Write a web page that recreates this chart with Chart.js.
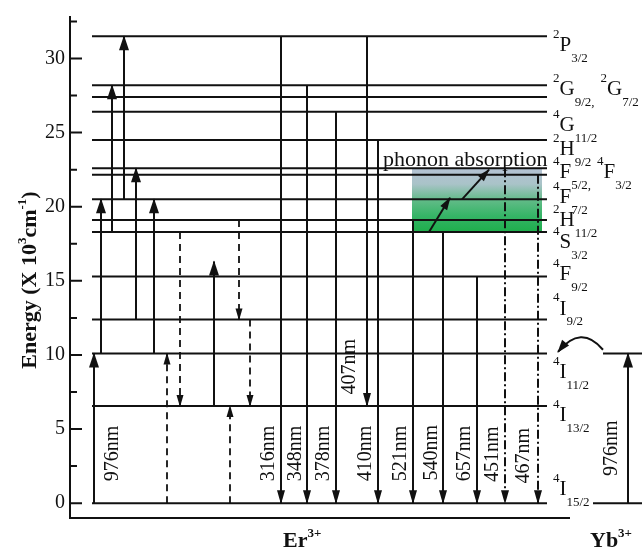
<!DOCTYPE html>
<html>
<head>
<meta charset="utf-8">
<script src="https://cdn.jsdelivr.net/npm/chart.js@4.4.0/dist/chart.umd.min.js"></script>
<style>
  html, body { margin: 0; padding: 0; background: #fff; }
</style>
</head>
<body>
<canvas id="diagram" width="642" height="549"></canvas>
<script>
// Er3+ levels (x 10^3 cm^-1), drawn between levelSpan
const levelEnergy = [31.5, 28.2, 27.4, 26.4, 24.5, 22.6, 22.15, 20.5, 19.1, 18.3, 15.3, 12.4, 10.1, 6.55, 0];
const levelSpan = [22, 477];

// term symbols: groups of [sup, letter, sub]
const levelLabels = [
    [['2', 'P', '3/2']],
    [['2', 'G', '9/2,'], ['2', 'G', '7/2']],
    [['4', 'G', '11/2']],
    [['2', 'H', '9/2']],
    [['4', 'F', '5/2,'], ['4', 'F', '3/2']],
    [['4', 'F', '7/2']],
    [['2', 'H', '11/2']],
    [['4', 'S', '3/2']],
    [['4', 'F', '9/2']],
    [['4', 'I', '9/2']],
    [['4', 'I', '11/2']],
    [['4', 'I', '13/2']],
    [['4', 'I', '15/2']]
];
const labelEnergy = [30.9, 27.9, 25.45, 23.85, 22.3, 20.6, 19.05, 17.6, 15.4, 13.1, 8.8, 5.9, 0.9];

// Yb3+ levels
const ybEnergy = [0, 10.1];
const ybStart = [523, 533];

// pumping (solid, upward)
const pumpX = [24, 31, 42, 54, 66, 84, 144, 558];
const pumpFrom = [0, 10.1, 18.3, 20.5, 12.4, 10.1, 6.55, 0];
const pumpTo = [10.1, 20.5, 28.2, 31.5, 22.6, 20.5, 16.3, 10.1];

// energy transfer / non-radiative (dashed)
const dashX = [97, 160, 110, 169, 180];
const dashFrom = [0, 0, 18.3, 19.1, 12.4];
const dashTo = [10.1, 6.55, 6.55, 12.4, 6.55];

// emissions (solid, downward)
const emitX = [211, 237, 266, 297, 308, 343, 373, 407];
const emitFrom = [31.5, 28.2, 26.4, 31.5, 24.5, 19.1, 18.3, 15.3];
const emitTo = [0, 0, 0, 6.55, 0, 0, 0, 0];

// blue emissions (dash-dot)
const blueX = [435, 468];
const blueFrom = [22.6, 22.15];
const blueTo = [0, 0];

// wavelength labels
const waveText = ['976nm', '316nm', '348nm', '378nm', '407nm', '410nm', '521nm', '540nm', '657nm', '451nm', '467nm', '976nm'];
const waveX = [43, 199, 226, 254, 280, 296, 331, 362, 395, 423, 454, 542];
const waveE = [3.35, 3.35, 3.35, 3.35, 9.2, 3.35, 3.35, 3.4, 3.35, 3.3, 3.2, 3.7];

// phonon absorption steps
const phononX0 = [359, 392];
const phononE0 = [18.3, 20.5];
const phononX1 = [380, 419];
const phononE1 = [20.6, 22.5];
const phononBoxX = [342, 472];
const phononBoxE = [18.3, 22.6];

// Yb -> Er transfer curve (start, control, end)
const transferX = [533, 511, 488];
const transferE = [10.35, 12.1, 10.2];

const yTicks = [0, 5, 10, 15, 20, 25, 30];

const SERIF = '"Liberation Serif", "DejaVu Serif", serif';
const INK = '#111';

function seg(x0, y0, x1, y1, extra) {
    return Object.assign({
        data: [{x: x0, y: y0}, {x: x1, y: y1}],
        showLine: true,
        borderColor: INK,
        borderWidth: 2,
        pointRadius: 0,
        clip: false
    }, extra || {});
}

const datasets = [];
levelEnergy.forEach(e => datasets.push(seg(levelSpan[0], e, levelSpan[1], e)));
ybEnergy.forEach((e, i) => datasets.push(seg(ybStart[i], e, 572, e)));
pumpX.forEach((x, i) => datasets.push(seg(x, pumpFrom[i], x, pumpTo[i], {head: [14, 10]})));
dashX.forEach((x, i) => datasets.push(seg(x, dashFrom[i], x, dashTo[i], {borderDash: [7, 5], borderWidth: 1.8, head: [11, 7]})));
emitX.forEach((x, i) => datasets.push(seg(x, emitFrom[i], x, emitTo[i], {head: [13, 8]})));
blueX.forEach((x, i) => datasets.push(seg(x, blueFrom[i], x, blueTo[i], {borderDash: [9, 3, 2, 3], head: [13, 8]})));
phononX0.forEach((x, i) => datasets.push(seg(x, phononE0[i], phononX1[i], phononE1[i], {head: [12, 8]})));

function arrowHead(ctx, x0, y0, x1, y1, len, w) {
    const a = Math.atan2(y1 - y0, x1 - x0);
    ctx.save();
    ctx.translate(x1, y1);
    ctx.rotate(a);
    ctx.beginPath();
    ctx.moveTo(1, 0);
    ctx.lineTo(-len, w / 2);
    ctx.lineTo(-len, -w / 2);
    ctx.closePath();
    ctx.fill();
    ctx.restore();
}

function drawTerm(ctx, x, y, groups) {
    ctx.textBaseline = 'middle';
    ctx.textAlign = 'left';
    groups.forEach((g, gi) => {
        if (gi > 0) x += 6;
        ctx.font = '13px ' + SERIF;
        ctx.fillText(g[0], x, y - 11);
        x += ctx.measureText(g[0]).width;
        ctx.font = '21px ' + SERIF;
        ctx.fillText(g[1], x, y);
        x += ctx.measureText(g[1]).width;
        ctx.font = '13px ' + SERIF;
        ctx.fillText(g[2], x, y + 13);
        x += ctx.measureText(g[2]).width;
    });
}

// draws a run of [text, isSup] pieces from x along the baseline
function drawRun(ctx, x, y, pieces, size, supSize) {
    ctx.textBaseline = 'alphabetic';
    ctx.textAlign = 'left';
    pieces.forEach(p => {
        if (p[1]) {
            ctx.font = 'bold ' + supSize + 'px ' + SERIF;
            ctx.fillText(p[0], x, y - size * 0.45);
        } else {
            ctx.font = 'bold ' + size + 'px ' + SERIF;
            ctx.fillText(p[0], x, y);
        }
        x += ctx.measureText(p[0]).width;
    });
    return x;
}

function runWidth(ctx, pieces, size, supSize) {
    let w = 0;
    pieces.forEach(p => {
        ctx.font = 'bold ' + (p[1] ? supSize : size) + 'px ' + SERIF;
        w += ctx.measureText(p[0]).width;
    });
    return w;
}

const diagramPlugin = {
    id: 'diagram',
    beforeDatasetsDraw(chart) {
        const {ctx, scales: {x, y}} = chart;
        const x0 = x.getPixelForValue(phononBoxX[0]);
        const x1 = x.getPixelForValue(phononBoxX[1]);
        const yTop = y.getPixelForValue(phononBoxE[1]);
        const yBot = y.getPixelForValue(phononBoxE[0]);
        const g = ctx.createLinearGradient(0, yTop, 0, yBot);
        g.addColorStop(0, '#b4c2d3');
        g.addColorStop(0.25, '#a9c3c8');
        g.addColorStop(0.5, '#62bb88');
        g.addColorStop(0.75, '#35b466');
        g.addColorStop(1, '#1eae4b');
        ctx.save();
        ctx.fillStyle = g;
        ctx.fillRect(x0, yTop, x1 - x0, yBot - yTop);
        ctx.restore();
    },
    afterDatasetsDraw(chart) {
        const {ctx, scales: {x, y}} = chart;
        ctx.save();
        ctx.fillStyle = INK;
        ctx.strokeStyle = INK;

        // arrow heads
        chart.data.datasets.forEach(ds => {
            if (!ds.head) return;
            const a = ds.data[0], b = ds.data[1];
            arrowHead(ctx, x.getPixelForValue(a.x), y.getPixelForValue(a.y),
                x.getPixelForValue(b.x), y.getPixelForValue(b.y), ds.head[0], ds.head[1]);
        });

        // Yb -> Er transfer curve
        const px = transferX.map(v => x.getPixelForValue(v));
        const py = transferE.map(v => y.getPixelForValue(v));
        ctx.lineWidth = 2;
        ctx.beginPath();
        ctx.moveTo(px[0], py[0]);
        ctx.quadraticCurveTo(px[1], py[1], px[2], py[2]);
        ctx.stroke();
        arrowHead(ctx, px[1], py[1], px[2], py[2], 12, 9);

        // axis frame: inward ticks and bottom spine
        const left = chart.chartArea.left;
        ctx.lineWidth = 2;
        ctx.beginPath();
        yTicks.forEach(v => {
            const yy = y.getPixelForValue(v);
            ctx.moveTo(left, yy);
            ctx.lineTo(left + 12, yy);
            const ym = y.getPixelForValue(v + 2.5);
            ctx.moveTo(left, ym);
            ctx.lineTo(left + 7, ym);
        });
        const yb = y.getPixelForValue(-1);
        ctx.moveTo(left - 1, yb);
        ctx.lineTo(x.getPixelForValue(500), yb);
        ctx.stroke();

        // term symbols
        levelLabels.forEach((groups, i) => {
            drawTerm(ctx, x.getPixelForValue(483), y.getPixelForValue(labelEnergy[i]), groups);
        });

        // wavelengths (rotated)
        ctx.font = '20px ' + SERIF;
        ctx.textAlign = 'center';
        ctx.textBaseline = 'middle';
        waveText.forEach((t, i) => {
            ctx.save();
            ctx.translate(x.getPixelForValue(waveX[i]), y.getPixelForValue(waveE[i]));
            ctx.rotate(-Math.PI / 2);
            ctx.fillText(t, 0, 0);
            ctx.restore();
        });

        // phonon absorption
        ctx.font = '22px ' + SERIF;
        ctx.textAlign = 'left';
        ctx.textBaseline = 'alphabetic';
        ctx.fillText('phonon absorption', x.getPixelForValue(313), y.getPixelForValue(22.78));

        // ion names
        drawRun(ctx, 283, 547, [['Er', false], ['3+', true]], 22, 13);
        drawRun(ctx, 590, 547, [['Yb', false], ['3+', true]], 22, 13);

        // y title
        const title = [['Energy (X 10', false], ['3', true], ['cm', false], ['-1', true], [')', false]];
        const w = runWidth(ctx, title, 22, 13);
        ctx.save();
        ctx.translate(36, 280);
        ctx.rotate(-Math.PI / 2);
        drawRun(ctx, -w / 2, 0, title, 22, 13);
        ctx.restore();

        ctx.restore();
    }
};

new Chart(document.getElementById('diagram'), {
    type: 'scatter',
    data: {datasets: datasets},
    options: {
        responsive: false,
        animation: false,
        devicePixelRatio: 1,
        layout: {padding: {top: 13, bottom: 31, left: 0, right: 0}},
        plugins: {legend: {display: false}, tooltip: {enabled: false}},
        scales: {
            x: {type: 'linear', min: 0, max: 572, display: false},
            y: {
                type: 'linear',
                min: -1,
                max: 32.8,
                afterFit(scale) { scale.width = 70; },
                afterBuildTicks(scale) { scale.ticks = yTicks.map(v => ({value: v})); },
                ticks: {font: {family: SERIF, size: 20}, color: INK, padding: 5},
                grid: {drawOnChartArea: false, drawTicks: false},
                border: {color: INK, width: 2}
            }
        }
    },
    plugins: [diagramPlugin]
});
</script>
</body>
</html>
